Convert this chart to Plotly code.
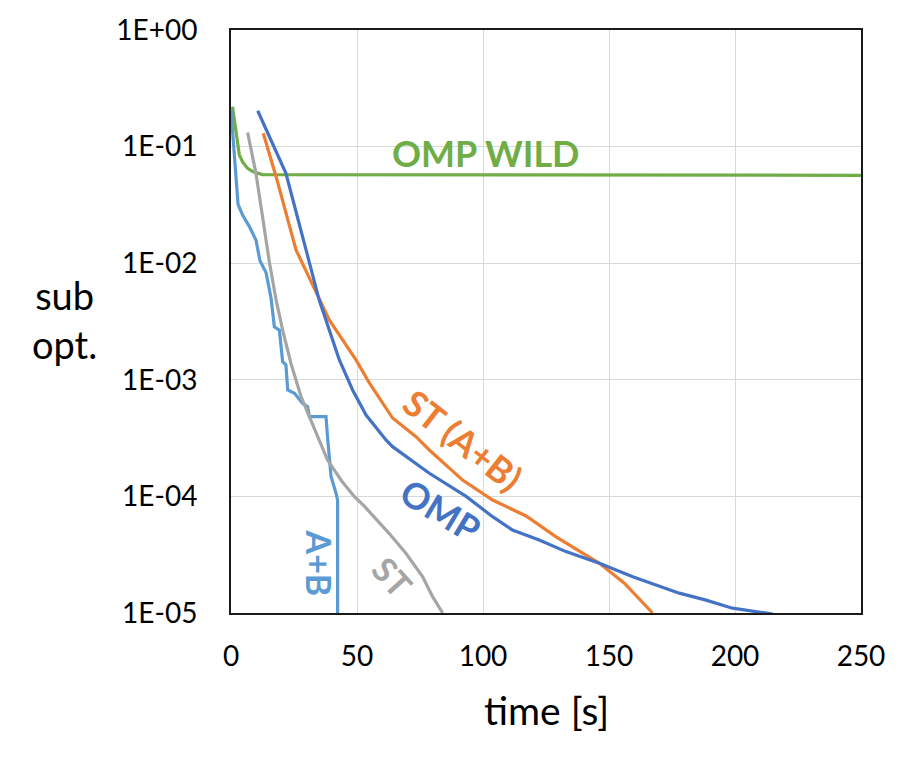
import plotly.graph_objects as go

# ---- data ----
omp_wild_t = [0.6, 2.0, 3.3, 4.6, 6.6, 8.6, 12.5, 250]
omp_wild_v = [0.22, 0.139, 0.085, 0.074, 0.065, 0.061, 0.0575, 0.0567]

ab_t = [0, 1.3, 2.8, 4.6, 7.3, 9.9, 11.5, 13.9, 15.9, 17.2, 19.2, 20.5, 21.8, 22.5,
        25.2, 28.4, 30.4, 31.1, 37.7, 38.4, 39.7, 41.7, 42.3, 42.3]
ab_v = [0.206, 0.082, 0.032, 0.0259, 0.0206, 0.0158, 0.0105, 0.0083, 0.0050, 0.00285,
        0.00267, 0.00143, 0.00134, 0.000818, 0.000766, 0.000629, 0.000588, 0.000483,
        0.000483, 0.000305, 0.000148, 0.000106, 0.000093, 0.00001]

st_t = [6.6, 9.9, 15.3, 17.9, 20.5, 23.8, 27.8, 31.7, 38.3, 44, 48.9, 53, 62.8, 69.4, 76, 80, 84]
st_v = [0.132, 0.059, 0.010, 0.00483, 0.00267, 0.00138, 0.000716, 0.000452, 0.000205,
        0.000135, 0.0001, 8.2e-5, 4.8e-5, 3.25e-5, 2.05e-5, 1.38e-5, 1e-5]

omp_t = [10.6, 21.8, 35.0, 37.7, 43.0, 48.25, 53.6, 61.5, 64.1, 78.7, 93.3, 103.8, 111.7,
         122.3, 132.9, 146.2, 159.4, 177.9, 188.5, 199, 211, 215]
omp_v = [0.203, 0.059, 0.00483, 0.00326, 0.00148, 0.000818, 0.000499, 0.000305, 0.000267,
         0.000158, 1e-4, 6.7e-5, 5.15e-5, 4.23e-5, 3.36e-5, 2.67e-5, 2.05e-5, 1.48e-5,
         1.29e-5, 1.1e-5, 1.0e-5, 0.98e-5]

stab_t = [12.8, 17.9, 25.8, 35.0, 39.0, 49.6, 54.9, 64.1, 73.4, 78.7, 91.9, 103.8, 117.1,
          129, 146.2, 156.1, 167.3]
stab_v = [0.130, 0.0552, 0.013, 0.00483, 0.00326, 0.00148, 0.00094, 0.00047, 0.000325,
          0.00025, 0.000138, 9.3e-5, 6.8e-5, 4.5e-5, 2.67e-5, 1.8e-5, 1e-5]

y_tickvals = [1, 0.1, 0.01, 0.001, 0.0001, 0.00001]
y_ticktext = ["1E+00", "1E-01", "1E-02", "1E-03", "1E-04", "1E-05"]
x_tickvals = [0, 50, 100, 150, 200, 250]

GREEN = "#70AD47"
LBLUE = "#5B9BD5"
GRAY = "#A5A5A5"
BLUE = "#4472C4"
ORANGE = "#ED7D31"
FONT = "Lato"

fig = go.Figure()
for t, v, c in [(omp_wild_t, omp_wild_v, GREEN), (ab_t, ab_v, LBLUE), (st_t, st_v, GRAY),
                (stab_t, stab_v, ORANGE), (omp_t, omp_v, BLUE)]:
    fig.add_trace(go.Scatter(x=t, y=v, mode="lines", line=dict(color=c, width=3.2),
                             showlegend=False, hoverinfo="skip"))

fig.update_layout(
    width=909, height=759,
    margin=dict(l=231, r=48, t=30, b=146),
    paper_bgcolor="white", plot_bgcolor="white",
    font=dict(family=FONT, color="black"),
)
fig.update_xaxes(range=[0, 250], tickvals=x_tickvals, showgrid=True, gridcolor="#D9D9D9",
                 gridwidth=1, showline=True, linecolor="#1a1a1a", linewidth=2, mirror=True,
                 ticks="outside", ticklen=17, tickcolor="rgba(0,0,0,0)",
                 tickfont=dict(family=FONT, size=28, color="black"), zeroline=False)
fig.update_yaxes(type="log", range=[-5, 0], tickvals=y_tickvals, ticktext=y_ticktext,
                 showgrid=True, gridcolor="#D9D9D9", gridwidth=1, showline=True,
                 linecolor="#1a1a1a", linewidth=2, mirror=True,
                 ticks="outside", ticklen=26, tickcolor="rgba(0,0,0,0)",
                 tickfont=dict(family=FONT, size=28, color="black"), zeroline=False)

anns = [
    dict(x=101.3, y=-1.055, text="<b>OMP WILD</b>", color=GREEN, angle=0, size=36),
    dict(x=92.2, y=-3.516, text="<b>ST (A+B)</b>", color=ORANGE, angle=38, size=36),
    dict(x=83.3, y=-4.117, text="<b>OMP</b>", color=BLUE, angle=31, size=36),
    dict(x=64.1, y=-4.689, text="<b>ST</b>", color=GRAY, angle=48, size=34),
    dict(x=35.1, y=-4.571, text="<b>A+B</b>", color=LBLUE, angle=90, size=34),
]
for a in anns:
    fig.add_annotation(x=a["x"], y=a["y"], xref="x", yref="y", text=a["text"],
                       showarrow=False, textangle=a["angle"],
                       xanchor="center", yanchor="middle",
                       font=dict(family=FONT, size=a["size"], color=a["color"]))

fig.add_annotation(x=0.5, y=0, xref="paper", yref="paper", yshift=-97, text="time [s]",
                   showarrow=False, xanchor="center", yanchor="middle",
                   font=dict(family=FONT, size=39, color="black"))
fig.add_annotation(x=-0.265, y=0.503, xref="paper", yref="paper", text="sub<br>opt.",
                   showarrow=False, xanchor="center", yanchor="middle",
                   font=dict(family=FONT, size=38, color="black"))

fig.write_html("out.html")
